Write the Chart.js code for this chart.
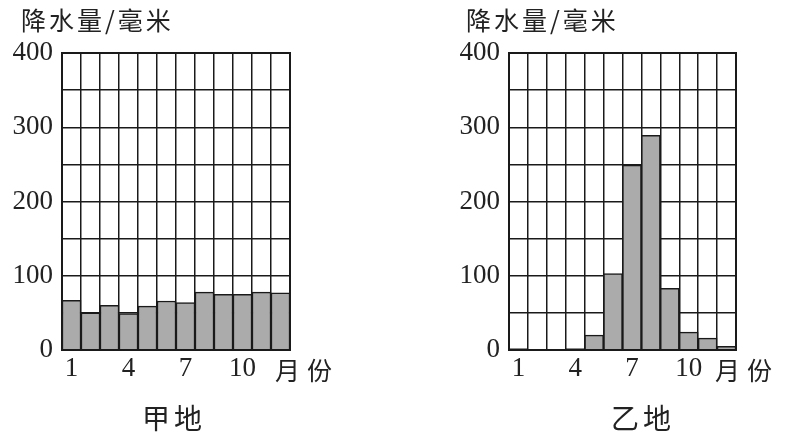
<!DOCTYPE html>
<html>
<head>
<meta charset="utf-8">
<script src="https://cdn.jsdelivr.net/npm/chart.js@4"></script>
<style>
  body { margin: 0; background: #fff; width: 786px; height: 444px; position: relative; overflow: hidden; }
  .box { position: absolute; top: 0; width: 300px; height: 400px; }
  .txt { position: absolute; font-family: "Noto Sans CJK SC", sans-serif; color: #222; white-space: nowrap; }
  .ytitle { top: 1px; font-size: 25px; letter-spacing: 3px; }
  .unit { top: 351px; font-size: 25px; letter-spacing: 7px; }
  .name { top: 397px; font-size: 28px; letter-spacing: 4px; }
</style>
</head>
<body>
<div class="box" style="left:0"><canvas id="c1"></canvas></div>
<div class="box" style="left:440px"><canvas id="c2"></canvas></div>

<div class="txt ytitle" style="left:21px">降水量/毫米</div>
<div class="txt ytitle" style="left:466px">降水量/毫米</div>
<div class="txt unit" style="left:275px">月份</div>
<div class="txt unit" style="left:715px">月份</div>
<div class="txt name" style="left:142px">甲地</div>
<div class="txt name" style="left:611px">乙地</div>

<script>
// 月份
var months = ['1', '2', '3', '4', '5', '6', '7', '8', '9', '10', '11', '12'];
var xTickLabels = ['1', '4', '7', '10'];
var yTickLabels = [0, 100, 200, 300, 400];

// 各月降水量（毫米）
var jiaRain = [67, 50, 60, 49, 59, 66, 64, 78, 75, 75, 78, 77];
var yiRain = [2, 0, 0, 2, 20, 103, 249, 289, 83, 24, 16, 5];

function makeChart(id, values, padLeft, padRight) {
  var ctx = document.getElementById(id).getContext('2d');
  return new Chart(ctx, {
    type: 'bar',
    data: {
      labels: months,
      datasets: [{
        data: values,
        backgroundColor: '#ababab',
        borderColor: '#1a1a1a',
        borderWidth: 1.5,
        borderSkipped: 'bottom',
        categoryPercentage: 1,
        barPercentage: 1
      }]
    },
    options: {
      responsive: true,
      maintainAspectRatio: false,
      animation: false,
      layout: { padding: { top: 53, left: padLeft, right: padRight, bottom: 0 } },
      plugins: { legend: { display: false }, tooltip: { enabled: false } },
      scales: {
        x: {
          offset: true,
          grid: { offset: true, color: '#1a1a1a', lineWidth: 1.5, drawTicks: false },
          border: { color: '#1a1a1a', width: 2 },
          afterFit: function (s) { s.height = 50; },
          ticks: {
            autoSkip: false,
            maxRotation: 0,
            padding: 3,
            color: '#222',
            font: { family: '"Liberation Serif", serif', size: 27 },
            callback: function (v) {
              var l = this.getLabelForValue(v);
              return xTickLabels.indexOf(l) >= 0 ? l : '';
            }
          }
        },
        y: {
          min: 0,
          max: 400,
          grid: { color: '#1a1a1a', lineWidth: 1.5, drawTicks: false },
          border: { color: '#1a1a1a', width: 2 },
          afterFit: function (s) { s.width = 55; },
          ticks: {
            stepSize: 50,
            padding: 9,
            color: '#222',
            font: { family: '"Liberation Serif", serif', size: 27 },
            callback: function (v) { return yTickLabels.indexOf(v) >= 0 ? v : ''; }
          }
        }
      }
    },
    plugins: [{
      id: 'frame',
      afterDraw: function (chart) {
        var a = chart.chartArea, c = chart.ctx;
        c.save();
        c.strokeStyle = '#1a1a1a';
        c.lineWidth = 2;
        c.strokeRect(a.left, a.top, a.right - a.left, a.bottom - a.top);
        c.restore();
      }
    }]
  });
}

makeChart('c1', jiaRain, 7, 10);
makeChart('c2', yiRain, 14, 4);
</script>
</body>
</html>
